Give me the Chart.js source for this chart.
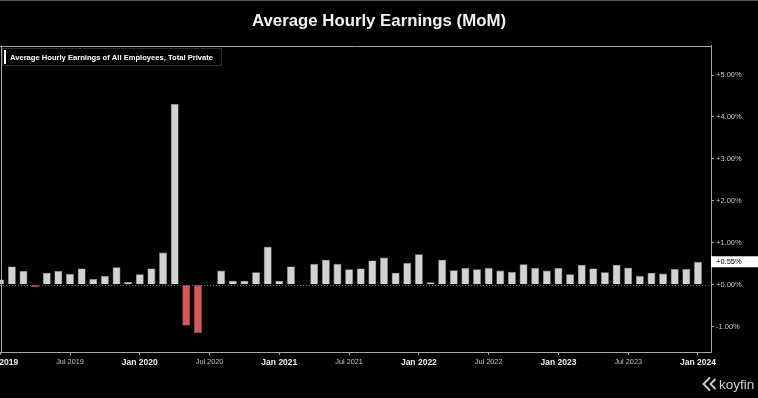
<!DOCTYPE html>
<html>
<head>
<meta charset="utf-8">
<title>Average Hourly Earnings (MoM)</title>
<script src="https://cdn.jsdelivr.net/npm/chart.js@4.4.1/dist/chart.umd.min.js"></script>
<style>
  html, body { margin: 0; padding: 0; background: #000; overflow: hidden; }
  canvas { display: block; }
</style>
</head>
<body>
<canvas id="aheChart" width="758" height="398"></canvas>
<script>
// DATA
const months = [
    'Jan 2019', 'Feb 2019', 'Mar 2019', 'Apr 2019', 'May 2019', 'Jun 2019', 'Jul 2019', 'Aug 2019', 'Sep 2019', 'Oct 2019', 'Nov 2019', 'Dec 2019',
    'Jan 2020', 'Feb 2020', 'Mar 2020', 'Apr 2020', 'May 2020', 'Jun 2020', 'Jul 2020', 'Aug 2020', 'Sep 2020', 'Oct 2020', 'Nov 2020', 'Dec 2020',
    'Jan 2021', 'Feb 2021', 'Mar 2021', 'Apr 2021', 'May 2021', 'Jun 2021', 'Jul 2021', 'Aug 2021', 'Sep 2021', 'Oct 2021', 'Nov 2021', 'Dec 2021',
    'Jan 2022', 'Feb 2022', 'Mar 2022', 'Apr 2022', 'May 2022', 'Jun 2022', 'Jul 2022', 'Aug 2022', 'Sep 2022', 'Oct 2022', 'Nov 2022', 'Dec 2022',
    'Jan 2023', 'Feb 2023', 'Mar 2023', 'Apr 2023', 'May 2023', 'Jun 2023', 'Jul 2023', 'Aug 2023', 'Sep 2023', 'Oct 2023', 'Nov 2023', 'Dec 2023',
    'Jan 2024'
];

// month over month change, %
const momChange = [
    0.13, 0.44, 0.33, -0.06, 0.29, 0.33, 0.26, 0.39, 0.14, 0.21, 0.42, 0.07,
    0.25, 0.39, 0.77, 4.31, -0.97, -1.15, 0, 0.34, 0.10, 0.10, 0.30, 0.91,
    0.10, 0.44, 0, 0.50, 0.60, 0.50, 0.37, 0.39, 0.58, 0.65, 0.29, 0.52,
    0.73, 0.06, 0.60, 0.35, 0.40, 0.37, 0.40, 0.34, 0.31, 0.49, 0.40, 0.34,
    0.40, 0.25, 0.48, 0.39, 0.30, 0.48, 0.41, 0.21, 0.29, 0.27, 0.38, 0.38,
    0.55
];

const xTickLabels = ['Jan 2019', 'Jul 2019', 'Jan 2020', 'Jul 2020', 'Jan 2021', 'Jul 2021',
    'Jan 2022', 'Jul 2022', 'Jan 2023', 'Jul 2023', 'Jan 2024'];
const yTickValues = [-1, 0, 1, 2, 3, 4, 5];

const seriesName = 'Average Hourly Earnings of All Employees, Total Private';

const GRAY_BAR = '#d2d2d2';
const RED_BAR = '#d65858';
const AXIS = '#a8a8a8';
const FONT = '"Liberation Sans", Arial, sans-serif';

// bar table for the linear month axis
const barData = momChange.map((v, i) => ({ x: i, y: v }));
const xTickValues = xTickLabels.map(l => months.indexOf(l));

const fmtPct = v => (v >= 0 ? '+' : '') + v.toFixed(2) + '%';

// DRAWING EXTRAS: frame, zero line, legend chip, last value tag, logo
const extras = {
    id: 'extras',
    beforeDatasetsDraw(chart) {
        const { ctx, chartArea, scales } = chart;
        const y0 = Math.round(scales.y.getPixelForValue(0)) + 0.5;
        ctx.save();
        ctx.strokeStyle = '#777';
        ctx.lineWidth = 1;
        ctx.setLineDash([1, 2]);
        ctx.beginPath();
        ctx.moveTo(chartArea.left, y0);
        ctx.lineTo(chartArea.right, y0);
        ctx.stroke();
        ctx.restore();
    },
    afterDraw(chart) {
        const { ctx, chartArea, scales } = chart;
        ctx.save();

        // thin strip on the very top
        ctx.fillStyle = '#555';
        ctx.fillRect(0, 0, chart.width, 1);

        // top and left frame
        ctx.strokeStyle = AXIS;
        ctx.lineWidth = 1;
        ctx.beginPath();
        ctx.moveTo(chartArea.left, Math.round(chartArea.top) + 0.5);
        ctx.lineTo(chartArea.right, Math.round(chartArea.top) + 0.5);
        ctx.moveTo(1.5, chartArea.top);
        ctx.lineTo(1.5, chartArea.bottom);
        ctx.stroke();

        // legend chip
        ctx.fillStyle = '#000';
        ctx.fillRect(2, 48, 219, 18);
        ctx.strokeStyle = '#2e2e2e';
        ctx.strokeRect(2.5, 48.5, 219, 17);
        ctx.fillStyle = '#fff';
        ctx.fillRect(4, 50, 2, 14);
        ctx.font = 'bold 7.6px ' + FONT;
        ctx.textBaseline = 'middle';
        ctx.fillText(seriesName, 10, 57.5);

        // last value tag on the right axis
        const last = momChange[momChange.length - 1];
        const yl = scales.y.getPixelForValue(last);
        ctx.fillStyle = '#fff';
        ctx.fillRect(chartArea.right, yl - 5.5, chart.width - chartArea.right, 11);
        ctx.fillStyle = '#000';
        ctx.font = '7.5px ' + FONT;
        ctx.fillText(fmtPct(last), chartArea.right + 5, yl + 0.5);

        // koyfin logo
        ctx.strokeStyle = '#d0d0d0';
        ctx.lineWidth = 1.8;
        ctx.beginPath();
        ctx.moveTo(710, 377.5);
        ctx.lineTo(703.5, 384);
        ctx.lineTo(710, 390.5);
        ctx.moveTo(715.5, 379);
        ctx.lineTo(710.5, 384);
        ctx.lineTo(715.5, 389);
        ctx.stroke();
        ctx.fillStyle = '#d0d0d0';
        ctx.font = '13.5px ' + FONT;
        ctx.textBaseline = 'alphabetic';
        ctx.fillText('koyfin', 719, 389);

        ctx.restore();
    }
};

// RENDER THE CHART
const ctx = document.getElementById('aheChart').getContext('2d');
const aheChart = new Chart(ctx, {
    type: 'bar',
    data: {
        datasets: [{
            label: seriesName,
            data: barData,
            backgroundColor: c => (c.raw && c.raw.y < 0 ? RED_BAR : GRAY_BAR),
            borderColor: c => (c.raw && c.raw.y < 0 ? RED_BAR : '#9a9a9a'),
            borderWidth: 0.6,
            barPercentage: 0.68,
            categoryPercentage: 1
        }]
    },
    options: {
        responsive: false,
        animation: false,
        devicePixelRatio: 1,
        layout: { padding: 0 },
        plugins: {
            legend: { display: false },
            tooltip: { enabled: false },
            title: {
                display: true,
                text: 'Average Hourly Earnings (MoM)',
                color: '#f2f2f2',
                font: { family: FONT, size: 16.8, weight: 'bold', lineHeight: 1.2 },
                padding: { top: 11.5, bottom: 14 }
            }
        },
        scales: {
            x: {
                type: 'linear',
                min: -0.02,
                max: 61.12,
                offset: false,
                grid: { display: true, offset: false, drawOnChartArea: false, tickLength: 3, color: AXIS },
                border: { display: true, color: AXIS },
                afterBuildTicks: axis => { axis.ticks = xTickValues.map(v => ({ value: v })); },
                afterFit: axis => {
                    axis.height = 46;
                    axis.paddingLeft = 0;
                    axis.paddingRight = 0;
                },
                ticks: {
                    autoSkip: false,
                    maxRotation: 0,
                    padding: 3,
                    callback: (v, i) => xTickLabels[i],
                    color: c => (c.index % 2 === 0 ? '#f0f0f0' : '#c8c8c8'),
                    font: c => (c.index % 2 === 0
                        ? { family: FONT, size: 8.5, weight: 'bold' }
                        : { family: FONT, size: 7.3, weight: 'normal' })
                }
            },
            y: {
                position: 'right',
                min: -1.6,
                max: 5.7,
                grid: { display: true, drawOnChartArea: false, tickLength: 3, color: AXIS },
                border: { display: true, color: AXIS },
                afterBuildTicks: axis => { axis.ticks = yTickValues.map(v => ({ value: v })); },
                afterFit: axis => { axis.width = 47; },
                ticks: {
                    padding: 2,
                    color: '#c8c8c8',
                    font: { family: FONT, size: 7.5 },
                    callback: v => fmtPct(v)
                }
            }
        }
    },
    plugins: [extras]
});
</script>
</body>
</html>
